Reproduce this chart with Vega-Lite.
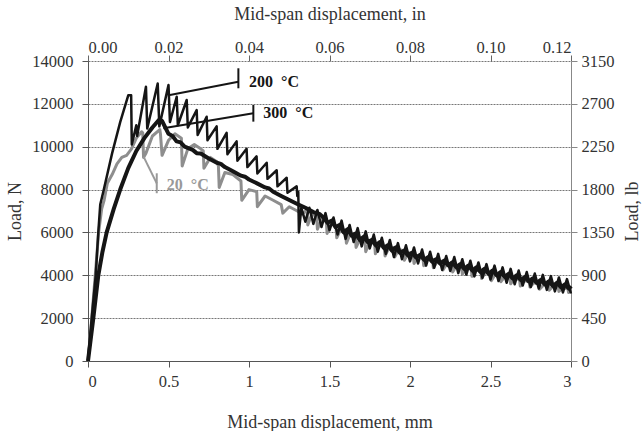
{
"$schema": "https://vega.github.io/schema/vega-lite/v6.json",
"width": 483, "height": 300,
"autosize": {"type": "none"},
"padding": {"left": 88, "top": 61, "right": 73, "bottom": 70},
"background": "white",
"config": {
  "font": "Liberation Serif",
  "view": {"stroke": null},
  "axis": {"labelFont": "Liberation Serif", "titleFont": "Liberation Serif", "labelColor": "#333", "titleColor": "#333", "labelFontSize": 16.5, "titleFontSize": 18, "titleFontWeight": "normal", "domainColor": "#666", "tickColor": "#666", "tickSize": 6}
},
"datasets": {
  "curves": [
{"T":"20 °C","mm":0,"N":0},{"T":"20 °C","mm":0.02,"N":1700},{"T":"20 °C","mm":0.045,"N":4000},{"T":"20 °C","mm":0.066,"N":6000},{"T":"20 °C","mm":0.085,"N":7100},{"T":"20 °C","mm":0.1,"N":7500},{"T":"20 °C","mm":0.12,"N":8300},{"T":"20 °C","mm":0.15,"N":8700},{"T":"20 °C","mm":0.18,"N":9200},{"T":"20 °C","mm":0.21,"N":9500},{"T":"20 °C","mm":0.24,"N":9600},{"T":"20 °C","mm":0.27,"N":9900},{"T":"20 °C","mm":0.3,"N":10400},{"T":"20 °C","mm":0.333,"N":10700},{"T":"20 °C","mm":0.34,"N":10650},{"T":"20 °C","mm":0.345,"N":9500},{"T":"20 °C","mm":0.36,"N":9700},{"T":"20 °C","mm":0.4,"N":10500},{"T":"20 °C","mm":0.446,"N":10800},{"T":"20 °C","mm":0.45,"N":10600},{"T":"20 °C","mm":0.46,"N":9600},{"T":"20 °C","mm":0.5,"N":10300},{"T":"20 °C","mm":0.54,"N":10600},{"T":"20 °C","mm":0.58,"N":10400},{"T":"20 °C","mm":0.585,"N":9100},{"T":"20 °C","mm":0.62,"N":9900},{"T":"20 °C","mm":0.66,"N":10100},{"T":"20 °C","mm":0.7,"N":9900},{"T":"20 °C","mm":0.716,"N":9800},{"T":"20 °C","mm":0.72,"N":9000},{"T":"20 °C","mm":0.76,"N":9500},{"T":"20 °C","mm":0.8,"N":9300},{"T":"20 °C","mm":0.81,"N":9100},{"T":"20 °C","mm":0.815,"N":8100},{"T":"20 °C","mm":0.85,"N":8800},{"T":"20 °C","mm":0.9,"N":8700},{"T":"20 °C","mm":0.95,"N":8400},{"T":"20 °C","mm":0.955,"N":7500},{"T":"20 °C","mm":1.0,"N":8000},{"T":"20 °C","mm":1.048,"N":7900},{"T":"20 °C","mm":1.052,"N":7200},{"T":"20 °C","mm":1.1,"N":7700},{"T":"20 °C","mm":1.15,"N":7500},{"T":"20 °C","mm":1.2,"N":7300},{"T":"20 °C","mm":1.21,"N":6900},{"T":"20 °C","mm":1.25,"N":7200},{"T":"20 °C","mm":1.3,"N":7000},{"T":"20 °C","mm":1.33,"N":6850},{"T":"20 °C","mm":1.36,"N":7050},{"T":"20 °C","mm":1.365,"N":6350},{"T":"20 °C","mm":1.39,"N":6850},{"T":"20 °C","mm":1.42,"N":6750},{"T":"20 °C","mm":1.425,"N":6150},{"T":"20 °C","mm":1.45,"N":6600},{"T":"20 °C","mm":1.48,"N":6550},{"T":"20 °C","mm":1.485,"N":5950},{"T":"20 °C","mm":1.51,"N":6400},{"T":"20 °C","mm":1.54,"N":6300},{"T":"20 °C","mm":1.545,"N":5750},{"T":"20 °C","mm":1.57,"N":6150},{"T":"20 °C","mm":1.6,"N":6100},{"T":"20 °C","mm":1.605,"N":5500},{"T":"20 °C","mm":1.63,"N":5950},{"T":"20 °C","mm":1.66,"N":5850},{"T":"20 °C","mm":1.665,"N":5300},{"T":"20 °C","mm":1.69,"N":5700},{"T":"20 °C","mm":1.72,"N":5650},{"T":"20 °C","mm":1.725,"N":5100},{"T":"20 °C","mm":1.75,"N":5550},{"T":"20 °C","mm":1.78,"N":5500},{"T":"20 °C","mm":1.785,"N":5000},{"T":"20 °C","mm":1.81,"N":5400},{"T":"20 °C","mm":1.84,"N":5350},{"T":"20 °C","mm":1.845,"N":4900},{"T":"20 °C","mm":1.87,"N":5300},{"T":"20 °C","mm":1.9,"N":5300},{"T":"20 °C","mm":1.905,"N":4850},{"T":"20 °C","mm":1.93,"N":5200},{"T":"20 °C","mm":1.96,"N":5150},{"T":"20 °C","mm":1.965,"N":4700},{"T":"20 °C","mm":1.99,"N":5050},{"T":"20 °C","mm":2.02,"N":5000},{"T":"20 °C","mm":2.025,"N":4550},{"T":"20 °C","mm":2.05,"N":4900},{"T":"20 °C","mm":2.08,"N":4850},{"T":"20 °C","mm":2.085,"N":4450},{"T":"20 °C","mm":2.11,"N":4750},{"T":"20 °C","mm":2.14,"N":4750},{"T":"20 °C","mm":2.145,"N":4350},{"T":"20 °C","mm":2.17,"N":4650},{"T":"20 °C","mm":2.2,"N":4650},{"T":"20 °C","mm":2.205,"N":4250},{"T":"20 °C","mm":2.23,"N":4550},{"T":"20 °C","mm":2.26,"N":4550},{"T":"20 °C","mm":2.265,"N":4150},{"T":"20 °C","mm":2.29,"N":4450},{"T":"20 °C","mm":2.32,"N":4450},{"T":"20 °C","mm":2.325,"N":4050},{"T":"20 °C","mm":2.35,"N":4350},{"T":"20 °C","mm":2.38,"N":4350},{"T":"20 °C","mm":2.385,"N":3950},{"T":"20 °C","mm":2.41,"N":4250},{"T":"20 °C","mm":2.44,"N":4200},{"T":"20 °C","mm":2.445,"N":3850},{"T":"20 °C","mm":2.47,"N":4150},{"T":"20 °C","mm":2.5,"N":4100},{"T":"20 °C","mm":2.505,"N":3750},{"T":"20 °C","mm":2.53,"N":4050},{"T":"20 °C","mm":2.56,"N":4000},{"T":"20 °C","mm":2.565,"N":3700},{"T":"20 °C","mm":2.59,"N":3950},{"T":"20 °C","mm":2.62,"N":3900},{"T":"20 °C","mm":2.625,"N":3600},{"T":"20 °C","mm":2.65,"N":3850},{"T":"20 °C","mm":2.68,"N":3800},{"T":"20 °C","mm":2.685,"N":3500},{"T":"20 °C","mm":2.71,"N":3750},{"T":"20 °C","mm":2.74,"N":3700},{"T":"20 °C","mm":2.745,"N":3450},{"T":"20 °C","mm":2.77,"N":3650},{"T":"20 °C","mm":2.8,"N":3600},{"T":"20 °C","mm":2.805,"N":3350},{"T":"20 °C","mm":2.83,"N":3550},{"T":"20 °C","mm":2.86,"N":3550},{"T":"20 °C","mm":2.865,"N":3300},{"T":"20 °C","mm":2.89,"N":3500},{"T":"20 °C","mm":2.92,"N":3450},{"T":"20 °C","mm":2.925,"N":3250},{"T":"20 °C","mm":2.95,"N":3400},{"T":"20 °C","mm":2.98,"N":3400},{"T":"20 °C","mm":2.985,"N":3200},{"T":"20 °C","mm":3.0,"N":3450},
{"T":"200 °C","mm":0,"N":0},{"T":"200 °C","mm":0.023,"N":2000},{"T":"200 °C","mm":0.048,"N":4000},{"T":"200 °C","mm":0.064,"N":6000},{"T":"200 °C","mm":0.076,"N":7300},{"T":"200 °C","mm":0.095,"N":7900},{"T":"200 °C","mm":0.15,"N":9700},{"T":"200 °C","mm":0.2,"N":11150},{"T":"200 °C","mm":0.25,"N":12400},{"T":"200 °C","mm":0.268,"N":12400},{"T":"200 °C","mm":0.272,"N":10100},{"T":"200 °C","mm":0.3,"N":11000},{"T":"200 °C","mm":0.305,"N":10500},{"T":"200 °C","mm":0.36,"N":12800},{"T":"200 °C","mm":0.368,"N":10850},{"T":"200 °C","mm":0.433,"N":12950},{"T":"200 °C","mm":0.443,"N":10950},{"T":"200 °C","mm":0.5,"N":12880},{"T":"200 °C","mm":0.509,"N":11150},{"T":"200 °C","mm":0.551,"N":12330},{"T":"200 °C","mm":0.558,"N":11000},{"T":"200 °C","mm":0.613,"N":12180},{"T":"200 °C","mm":0.62,"N":10900},{"T":"200 °C","mm":0.675,"N":11710},{"T":"200 °C","mm":0.681,"N":10550},{"T":"200 °C","mm":0.737,"N":11400},{"T":"200 °C","mm":0.742,"N":10300},{"T":"200 °C","mm":0.799,"N":10950},{"T":"200 °C","mm":0.804,"N":9900},{"T":"200 °C","mm":0.861,"N":10650},{"T":"200 °C","mm":0.866,"N":9650},{"T":"200 °C","mm":0.923,"N":10250},{"T":"200 °C","mm":0.928,"N":9350},{"T":"200 °C","mm":0.985,"N":9900},{"T":"200 °C","mm":0.99,"N":9050},{"T":"200 °C","mm":1.047,"N":9550},{"T":"200 °C","mm":1.052,"N":8750},{"T":"200 °C","mm":1.11,"N":9250},{"T":"200 °C","mm":1.115,"N":8500},{"T":"200 °C","mm":1.172,"N":8900},{"T":"200 °C","mm":1.177,"N":8150},{"T":"200 °C","mm":1.234,"N":8550},{"T":"200 °C","mm":1.239,"N":7850},{"T":"200 °C","mm":1.296,"N":8150},{"T":"200 °C","mm":1.3,"N":7700},{"T":"200 °C","mm":1.306,"N":7900},{"T":"200 °C","mm":1.31,"N":6000},{"T":"200 °C","mm":1.325,"N":7150},{"T":"200 °C","mm":1.35,"N":6500},{"T":"200 °C","mm":1.375,"N":7150},{"T":"200 °C","mm":1.4,"N":6400},{"T":"200 °C","mm":1.425,"N":7050},{"T":"200 °C","mm":1.45,"N":6250},{"T":"200 °C","mm":1.475,"N":6900},{"T":"200 °C","mm":1.5,"N":6100},{"T":"200 °C","mm":1.525,"N":6700},{"T":"200 °C","mm":1.55,"N":5900},{"T":"200 °C","mm":1.575,"N":6550},{"T":"200 °C","mm":1.6,"N":5700},{"T":"200 °C","mm":1.625,"N":6350},{"T":"200 °C","mm":1.65,"N":5550},{"T":"200 °C","mm":1.675,"N":6200},{"T":"200 °C","mm":1.7,"N":5350},{"T":"200 °C","mm":1.725,"N":6050},{"T":"200 °C","mm":1.75,"N":5250},{"T":"200 °C","mm":1.775,"N":5900},{"T":"200 °C","mm":1.8,"N":5100},{"T":"200 °C","mm":1.825,"N":5750},{"T":"200 °C","mm":1.85,"N":5000},{"T":"200 °C","mm":1.875,"N":5650},{"T":"200 °C","mm":1.9,"N":4850},{"T":"200 °C","mm":1.925,"N":5500},{"T":"200 °C","mm":1.95,"N":4750},{"T":"200 °C","mm":1.975,"N":5400},{"T":"200 °C","mm":2.0,"N":4650},{"T":"200 °C","mm":2.025,"N":5300},{"T":"200 °C","mm":2.05,"N":4550},{"T":"200 °C","mm":2.075,"N":5200},{"T":"200 °C","mm":2.1,"N":4450},{"T":"200 °C","mm":2.125,"N":5100},{"T":"200 °C","mm":2.15,"N":4350},{"T":"200 °C","mm":2.175,"N":5000},{"T":"200 °C","mm":2.2,"N":4250},{"T":"200 °C","mm":2.225,"N":4900},{"T":"200 °C","mm":2.25,"N":4200},{"T":"200 °C","mm":2.275,"N":4850},{"T":"200 °C","mm":2.3,"N":4100},{"T":"200 °C","mm":2.325,"N":4750},{"T":"200 °C","mm":2.35,"N":4030},{"T":"200 °C","mm":2.375,"N":4680},{"T":"200 °C","mm":2.4,"N":3950},{"T":"200 °C","mm":2.425,"N":4600},{"T":"200 °C","mm":2.45,"N":3880},{"T":"200 °C","mm":2.475,"N":4520},{"T":"200 °C","mm":2.5,"N":3800},{"T":"200 °C","mm":2.525,"N":4450},{"T":"200 °C","mm":2.55,"N":3730},{"T":"200 °C","mm":2.575,"N":4370},{"T":"200 °C","mm":2.6,"N":3650},{"T":"200 °C","mm":2.625,"N":4300},{"T":"200 °C","mm":2.65,"N":3580},{"T":"200 °C","mm":2.675,"N":4220},{"T":"200 °C","mm":2.7,"N":3520},{"T":"200 °C","mm":2.725,"N":4150},{"T":"200 °C","mm":2.75,"N":3450},{"T":"200 °C","mm":2.775,"N":4080},{"T":"200 °C","mm":2.8,"N":3380},{"T":"200 °C","mm":2.825,"N":4020},{"T":"200 °C","mm":2.85,"N":3320},{"T":"200 °C","mm":2.875,"N":3960},{"T":"200 °C","mm":2.9,"N":3250},{"T":"200 °C","mm":2.925,"N":3900},{"T":"200 °C","mm":2.95,"N":3200},{"T":"200 °C","mm":2.975,"N":3820},{"T":"200 °C","mm":3.0,"N":3150},
{"T":"300 °C","mm":0,"N":0},{"T":"300 °C","mm":0.033,"N":2000},{"T":"300 °C","mm":0.064,"N":4000},{"T":"300 °C","mm":0.09,"N":5100},{"T":"300 °C","mm":0.116,"N":6000},{"T":"300 °C","mm":0.16,"N":7100},{"T":"300 °C","mm":0.2,"N":8000},{"T":"300 °C","mm":0.25,"N":9000},{"T":"300 °C","mm":0.3,"N":9800},{"T":"300 °C","mm":0.35,"N":10400},{"T":"300 °C","mm":0.4,"N":10900},{"T":"300 °C","mm":0.44,"N":11250},{"T":"300 °C","mm":0.46,"N":11200},{"T":"300 °C","mm":0.5,"N":10600},{"T":"300 °C","mm":0.525,"N":10500},{"T":"300 °C","mm":0.55,"N":10250},{"T":"300 °C","mm":0.575,"N":10200},{"T":"300 °C","mm":0.6,"N":10000},{"T":"300 °C","mm":0.65,"N":9850},{"T":"300 °C","mm":0.675,"N":9700},{"T":"300 °C","mm":0.7,"N":9680},{"T":"300 °C","mm":0.75,"N":9450},{"T":"300 °C","mm":0.8,"N":9250},{"T":"300 °C","mm":0.825,"N":9200},{"T":"300 °C","mm":0.85,"N":9050},{"T":"300 °C","mm":0.9,"N":8850},{"T":"300 °C","mm":0.95,"N":8650},{"T":"300 °C","mm":0.975,"N":8600},{"T":"300 °C","mm":1.0,"N":8470},{"T":"300 °C","mm":1.05,"N":8290},{"T":"300 °C","mm":1.1,"N":8100},{"T":"300 °C","mm":1.125,"N":8050},{"T":"300 °C","mm":1.15,"N":7900},{"T":"300 °C","mm":1.2,"N":7700},{"T":"300 °C","mm":1.25,"N":7510},{"T":"300 °C","mm":1.3,"N":7330},{"T":"300 °C","mm":1.35,"N":7150},{"T":"300 °C","mm":1.4,"N":6950},{"T":"300 °C","mm":1.44,"N":6850},{"T":"300 °C","mm":1.4625,"N":6700},{"T":"300 °C","mm":1.4875,"N":6450},{"T":"300 °C","mm":1.5125,"N":6550},{"T":"300 °C","mm":1.5375,"N":6250},{"T":"300 °C","mm":1.5625,"N":6350},{"T":"300 °C","mm":1.5875,"N":6000},{"T":"300 °C","mm":1.6125,"N":6150},{"T":"300 °C","mm":1.6375,"N":5850},{"T":"300 °C","mm":1.6625,"N":5950},{"T":"300 °C","mm":1.6875,"N":5650},{"T":"300 °C","mm":1.7125,"N":5800},{"T":"300 °C","mm":1.7375,"N":5550},{"T":"300 °C","mm":1.7625,"N":5650},{"T":"300 °C","mm":1.7875,"N":5400},{"T":"300 °C","mm":1.8125,"N":5550},{"T":"300 °C","mm":1.8375,"N":5280},{"T":"300 °C","mm":1.8625,"N":5400},{"T":"300 °C","mm":1.8875,"N":5150},{"T":"300 °C","mm":1.9125,"N":5300},{"T":"300 °C","mm":1.9375,"N":5050},{"T":"300 °C","mm":1.9625,"N":5150},{"T":"300 °C","mm":1.9875,"N":4930},{"T":"300 °C","mm":2.0125,"N":5050},{"T":"300 °C","mm":2.0375,"N":4830},{"T":"300 °C","mm":2.0625,"N":4950},{"T":"300 °C","mm":2.0875,"N":4720},{"T":"300 °C","mm":2.1125,"N":4850},{"T":"300 °C","mm":2.1375,"N":4630},{"T":"300 °C","mm":2.1625,"N":4750},{"T":"300 °C","mm":2.1875,"N":4540},{"T":"300 °C","mm":2.2125,"N":4680},{"T":"300 °C","mm":2.2375,"N":4460},{"T":"300 °C","mm":2.2625,"N":4600},{"T":"300 °C","mm":2.2875,"N":4380},{"T":"300 °C","mm":2.3125,"N":4520},{"T":"300 °C","mm":2.3375,"N":4300},{"T":"300 °C","mm":2.3625,"N":4450},{"T":"300 °C","mm":2.3875,"N":4220},{"T":"300 °C","mm":2.4125,"N":4370},{"T":"300 °C","mm":2.4375,"N":4150},{"T":"300 °C","mm":2.4625,"N":4300},{"T":"300 °C","mm":2.4875,"N":4070},{"T":"300 °C","mm":2.5125,"N":4220},{"T":"300 °C","mm":2.5375,"N":4000},{"T":"300 °C","mm":2.5625,"N":4150},{"T":"300 °C","mm":2.5875,"N":3930},{"T":"300 °C","mm":2.6125,"N":4070},{"T":"300 °C","mm":2.6375,"N":3850},{"T":"300 °C","mm":2.6625,"N":4000},{"T":"300 °C","mm":2.6875,"N":3780},{"T":"300 °C","mm":2.7125,"N":3920},{"T":"300 °C","mm":2.7375,"N":3720},{"T":"300 °C","mm":2.7625,"N":3850},{"T":"300 °C","mm":2.7875,"N":3650},{"T":"300 °C","mm":2.8125,"N":3780},{"T":"300 °C","mm":2.8375,"N":3580},{"T":"300 °C","mm":2.8625,"N":3720},{"T":"300 °C","mm":2.8875,"N":3500},{"T":"300 °C","mm":2.9125,"N":3650},{"T":"300 °C","mm":2.9375,"N":3440},{"T":"300 °C","mm":2.9625,"N":3580},{"T":"300 °C","mm":2.9875,"N":3380},{"T":"300 °C","mm":3.0,"N":3500}
  ],
  "leaders": [
    {"T":"200 °C","mm":0.509,"N":12414,"mm2":0.934,"N2":13035},
    {"T":"300 °C","mm":0.468,"N":10860,"mm2":1.027,"N2":11560},
    {"T":"20 °C","mm":0.345,"N":9535,"mm2":0.427,"N2":8290}
  ],
  "ticks": [
    {"T":"200 °C","mm":0.934,"N":13660,"N2":12727},
    {"T":"300 °C","mm":1.027,"N":11950,"N2":11170},
    {"T":"20 °C","mm":0.427,"N":8760,"N2":7830}
  ],
  "labels": [
    {"T":"200 °C","mm":1.0,"N":13035,"label":"200\u00a0\u00a0°C"},
    {"T":"300 °C","mm":1.089,"N":11560,"label":"300\u00a0\u00a0°C"},
    {"T":"20 °C","mm":0.489,"N":8210,"label":"20\u00a0\u00a0°C"}
  ],
  "secondary": [{"inch":0,"lb":0},{"inch":0.12,"lb":3150}]
},
"layer": [
  {
    "layer": [
      {
        "data": {"name": "curves"},
        "transform": [{"filter": "datum.T === '20 °C'"}],
        "mark": {"type": "line", "strokeJoin": "round", "color": "#8e8e8e", "strokeWidth": 3},
        "encoding": {
          "x": {"field": "mm", "type": "quantitative", "scale": {"domain": [0, 3], "nice": false},
                "axis": {"title": "Mid-span displacement, mm", "orient": "bottom", "values": [0,0.5,1,1.5,2,2.5,3], "format": ".1~f", "grid": false, "labelPadding": 6, "titleY": 61, "titleBaseline": "middle", "domainColor": "#555", "tickColor": "#555"}},
          "y": {"field": "N", "type": "quantitative", "scale": {"domain": [0, 14000], "nice": false},
                "axis": {"title": "Load, N", "orient": "left", "values": [0,2000,4000,6000,8000,10000,12000,14000], "format": "d", "grid": true, "gridColor": "#777", "gridDash": [2, 1], "gridWidth": 1, "labelPadding": 9, "titleX": -73, "titleY": 150, "titleAngle": -90, "titleAlign": "center", "titleBaseline": "middle", "domainColor": "#555", "tickColor": "#555"}},
          "order": {"value": null}
        }
      },
      {
        "data": {"name": "curves"},
        "transform": [{"filter": "datum.T === '200 °C'"}],
        "mark": {"type": "line", "strokeJoin": "round", "color": "#151515", "strokeWidth": 2.5},
        "encoding": {
          "x": {"field": "mm", "type": "quantitative", "title": "Mid-span displacement, mm"},
          "y": {"field": "N", "type": "quantitative", "title": "Load, N"},
          "order": {"value": null}
        }
      },
      {
        "data": {"name": "curves"},
        "transform": [{"filter": "datum.T === '300 °C'"}],
        "mark": {"type": "line", "strokeJoin": "round", "color": "#151515", "strokeWidth": 4},
        "encoding": {
          "x": {"field": "mm", "type": "quantitative", "title": "Mid-span displacement, mm"},
          "y": {"field": "N", "type": "quantitative", "title": "Load, N"},
          "order": {"value": null}
        }
      },
      {
        "data": {"name": "leaders"},
        "mark": {"type": "rule", "strokeWidth": 2},
        "encoding": {
          "x": {"field": "mm", "type": "quantitative", "title": "Mid-span displacement, mm"},
          "x2": {"field": "mm2"},
          "y": {"field": "N", "type": "quantitative", "title": "Load, N"},
          "y2": {"field": "N2"},
          "color": {"field": "T", "type": "nominal", "scale": {"domain": ["20 °C", "200 °C", "300 °C"], "range": ["#999999", "#151515", "#151515"]}, "legend": null}
        }
      },
      {
        "data": {"name": "ticks"},
        "mark": {"type": "rule", "strokeWidth": 2},
        "encoding": {
          "x": {"field": "mm", "type": "quantitative", "title": "Mid-span displacement, mm"},
          "y": {"field": "N", "type": "quantitative", "title": "Load, N"},
          "y2": {"field": "N2"},
          "color": {"field": "T", "type": "nominal", "legend": null}
        }
      },
      {
        "data": {"name": "labels"},
        "mark": {"type": "text", "align": "left", "baseline": "middle", "fontWeight": "bold", "fontSize": 16, "font": "Liberation Serif"},
        "encoding": {
          "x": {"field": "mm", "type": "quantitative", "title": "Mid-span displacement, mm"},
          "y": {"field": "N", "type": "quantitative", "title": "Load, N"},
          "text": {"field": "label"},
          "color": {"field": "T", "type": "nominal", "legend": null}
        }
      }
    ]
  },
  {
    "data": {"name": "secondary"},
    "mark": {"type": "point", "opacity": 0},
    "encoding": {
      "x": {"field": "inch", "type": "quantitative", "scale": {"domain": [0, 0.12], "nice": false},
            "axis": {"title": "Mid-span displacement, in", "orient": "top", "values": [0,0.02,0.04,0.06,0.08,0.1,0.12], "format": ".2f", "grid": false, "domain": false, "labelPadding": 0, "titleY": -47, "titleBaseline": "middle"}},
      "y": {"field": "lb", "type": "quantitative", "scale": {"domain": [0, 3150], "nice": false},
            "axis": {"title": "Load, lb", "orient": "right", "values": [0,450,900,1350,1800,2250,2700,3150], "format": "d", "grid": false, "domain": true, "domainColor": "#888", "tickColor": "#888", "labelPadding": 4, "titleX": 61, "titleY": 150, "titleAngle": -90, "titleAlign": "center", "titleBaseline": "middle"}}
    }
  }
],
"resolve": {"scale": {"x": "independent", "y": "independent"}}
}
